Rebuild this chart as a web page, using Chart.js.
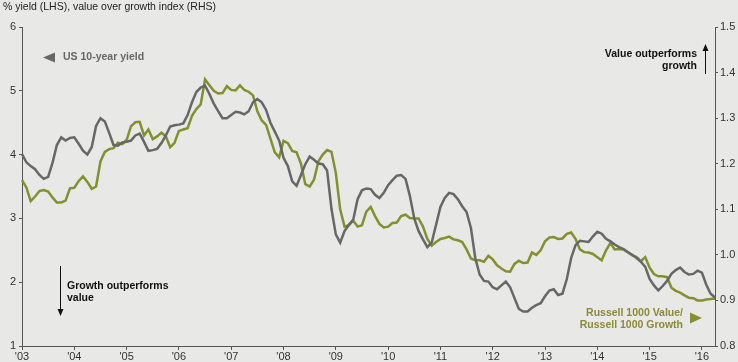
<!DOCTYPE html>
<html>
<head>
<meta charset="utf-8">
<script src="https://cdn.jsdelivr.net/npm/chart.js@4.4.1/dist/chart.umd.min.js"></script>
<style>
html,body{margin:0;padding:0;background:#e8e8e6;}
#wrap{width:738px;height:362px;position:relative;}
</style>
</head>
<body>
<div id="wrap"><canvas id="c" width="738" height="362"></canvas></div>
<script>
// Monthly categories, Jan 2003 .. Apr 2016
const startYear = 2003;
const months = [];
for (let i = 0; i < 160; i++) {
  const y = startYear + Math.floor(i / 12);
  const m = (i % 12) + 1;
  months.push(y + '-' + (m < 10 ? '0' + m : m));
}

// US 10-year yield, % (LHS)
const usYield = [
  4.01, 3.88, 3.82, 3.77, 3.68, 3.62, 3.65, 3.87, 4.15, 4.27,
  4.22, 4.26, 4.27, 4.17, 4.06, 4.00, 4.12, 4.45, 4.57, 4.52,
  4.34, 4.15, 4.14, 4.19, 4.20, 4.22, 4.30, 4.33, 4.20, 4.06,
  4.07, 4.09, 4.18, 4.30, 4.44, 4.46, 4.47, 4.49, 4.62, 4.82,
  4.98, 5.05, 5.08, 4.95, 4.80, 4.68, 4.57, 4.57, 4.62, 4.67,
  4.66, 4.63, 4.68, 4.82, 4.87, 4.82, 4.70, 4.50, 4.36, 4.22,
  3.95, 3.82, 3.58, 3.51, 3.68, 3.85, 3.97, 3.92, 3.86, 3.85,
  3.75, 3.15, 2.75, 2.62, 2.80, 2.90, 2.98, 3.30, 3.44, 3.47,
  3.46, 3.37, 3.32, 3.40, 3.52, 3.60, 3.67, 3.68, 3.62, 3.35,
  3.00, 2.80, 2.67, 2.55, 2.62, 2.90, 3.18, 3.32, 3.40, 3.38,
  3.30, 3.19, 3.10, 2.85, 2.38, 2.12, 2.02, 2.01, 1.92, 1.89,
  1.95, 2.01, 1.92, 1.75, 1.58, 1.54, 1.54, 1.60, 1.64, 1.67,
  1.78, 1.87, 1.89, 1.80, 1.82, 2.05, 2.38, 2.58, 2.65, 2.64,
  2.63, 2.72, 2.79, 2.76, 2.68, 2.64, 2.59, 2.55, 2.52, 2.47,
  2.43, 2.38, 2.32, 2.24, 2.05, 1.95, 1.87, 1.94, 2.02, 2.13,
  2.19, 2.23, 2.16, 2.12, 2.13, 2.18, 2.15, 1.96, 1.82, 1.76
];

// Russell 1000 Value / Russell 1000 Growth (RHS)
const valueOverGrowth = [
  1.164, 1.148, 1.118, 1.128, 1.140, 1.142, 1.139, 1.126, 1.115, 1.115,
  1.119, 1.146, 1.147, 1.162, 1.172, 1.160, 1.145, 1.150, 1.205, 1.226,
  1.232, 1.234, 1.246, 1.243, 1.252, 1.282, 1.291, 1.292, 1.262, 1.275,
  1.254, 1.260, 1.268, 1.260, 1.236, 1.246, 1.272, 1.275, 1.278, 1.305,
  1.320, 1.330, 1.385, 1.372, 1.360, 1.354, 1.355, 1.370, 1.362, 1.361,
  1.372, 1.362, 1.358, 1.350, 1.315, 1.295, 1.285, 1.255, 1.225, 1.214,
  1.250, 1.245, 1.228, 1.225, 1.200, 1.155, 1.150, 1.165, 1.205, 1.220,
  1.230, 1.226, 1.180, 1.100, 1.062, 1.065, 1.075, 1.062, 1.065, 1.095,
  1.105, 1.085, 1.068, 1.060, 1.062, 1.070, 1.071, 1.085, 1.088, 1.081,
  1.080, 1.080, 1.062, 1.035, 1.020, 1.028, 1.035, 1.037, 1.040, 1.034,
  1.032, 1.028, 1.012, 0.992, 0.988, 0.988, 0.985, 0.998, 0.990, 0.977,
  0.970, 0.964, 0.963, 0.980, 0.987, 0.982, 0.983, 1.005, 1.000, 1.010,
  1.030, 1.038, 1.039, 1.035, 1.036, 1.046, 1.049, 1.035, 1.012, 1.006,
  1.005, 1.002, 0.995, 0.988, 1.010, 1.026, 1.012, 1.013, 1.012, 1.006,
  0.999, 0.995, 0.986, 0.995, 0.972, 0.958, 0.953, 0.953, 0.951, 0.928,
  0.921, 0.917, 0.911, 0.906, 0.905, 0.900, 0.900, 0.902, 0.903, 0.904
];

// Axis tick labels
const leftTicks = [1, 2, 3, 4, 5, 6];
const rightTicks = [0.8, 0.9, 1.0, 1.1, 1.2, 1.3, 1.4, 1.5];
const yearLabels = ["'03","'04","'05","'06","'07","'08","'09","'10","'11","'12","'13","'14","'15","'16"];

const GREY = '#676767';
const GREEN = '#83902f';
const AXIS = '#555555';
const FONT = '"Liberation Sans", Arial, sans-serif';

const bgPlugin = {
  id: 'bg',
  beforeDraw(chart) {
    const ctx = chart.ctx;
    ctx.save();
    ctx.fillStyle = '#e8e8e6';
    ctx.fillRect(0, 0, chart.width, chart.height);
    ctx.restore();
  }
};

const annoPlugin = {
  id: 'anno',
  afterDraw(chart) {
    const ctx = chart.ctx;
    ctx.save();
    // title
    ctx.font = '10.5px ' + FONT;
    ctx.fillStyle = '#222';
    ctx.textBaseline = 'middle';
    ctx.textAlign = 'left';
    ctx.fillText('% yield (LHS), value over growth index (RHS)', 3, 7);

    // US 10-year yield label + left triangle
    ctx.fillStyle = GREY;
    ctx.beginPath();
    ctx.moveTo(43, 57.5); ctx.lineTo(55, 52.5); ctx.lineTo(55, 62.5); ctx.closePath();
    ctx.fill();
    ctx.font = 'bold 10.5px ' + FONT;
    ctx.fillText('US 10-year yield', 63, 57.5);

    // Value outperforms growth + up arrow
    ctx.fillStyle = '#111';
    ctx.textAlign = 'right';
    ctx.fillText('Value outperforms', 697, 54);
    ctx.fillText('growth', 697, 66);
    ctx.strokeStyle = '#111';
    ctx.lineWidth = 1;
    ctx.beginPath(); ctx.moveTo(705.5, 49); ctx.lineTo(705.5, 74); ctx.stroke();
    ctx.beginPath(); ctx.moveTo(705.5, 44); ctx.lineTo(702.5, 51); ctx.lineTo(708.5, 51); ctx.closePath(); ctx.fill();

    // Growth outperforms value + down arrow
    ctx.textAlign = 'left';
    ctx.fillText('Growth outperforms', 67, 286);
    ctx.fillText('value', 67, 298);
    ctx.beginPath(); ctx.moveTo(60.5, 266); ctx.lineTo(60.5, 311); ctx.stroke();
    ctx.beginPath(); ctx.moveTo(60.5, 316); ctx.lineTo(57.5, 309); ctx.lineTo(63.5, 309); ctx.closePath(); ctx.fill();

    // Russell label + right triangle
    ctx.fillStyle = '#8b8a35';
    ctx.textAlign = 'right';
    ctx.fillText('Russell 1000 Value/', 683, 313);
    ctx.fillText('Russell 1000 Growth', 683, 325);
    ctx.fillStyle = GREEN;
    ctx.beginPath(); ctx.moveTo(702, 318); ctx.lineTo(690, 312.5); ctx.lineTo(690, 323.5); ctx.closePath(); ctx.fill();
    ctx.restore();
  }
};

Chart.defaults.font.family = FONT;
Chart.defaults.font.size = 11;
Chart.defaults.color = '#333';

new Chart(document.getElementById('c'), {
  type: 'line',
  data: {
    labels: months,
    datasets: [
      { label: 'US 10-year yield', data: usYield, yAxisID: 'y', borderColor: GREY, borderWidth: 2.5, pointRadius: 0, tension: 0 },
      { label: 'Russell 1000 Value/Russell 1000 Growth', data: valueOverGrowth, yAxisID: 'y1', borderColor: GREEN, borderWidth: 2.5, pointRadius: 0, tension: 0 }
    ]
  },
  options: {
    responsive: false,
    animation: false,
    devicePixelRatio: 1,
    layout: { padding: { top: 27, left: 0, right: 0, bottom: 0 } },
    plugins: { legend: { display: false }, tooltip: { enabled: false }, title: { display: false } },
    scales: {
      x: {
        type: 'category',
        offset: false,
        grid: {
          drawOnChartArea: false,
          drawTicks: true,
          tickLength: 4,
          color: (c) => (c.index % 12 === 0 ? AXIS : 'rgba(0,0,0,0)')
        },
        border: { color: AXIS, width: 1 },
        ticks: {
          autoSkip: false,
          maxRotation: 0,
          minRotation: 0,
          padding: 0,
          color: '#333',
          callback: (v, i) => (i % 12 === 0 ? yearLabels[i / 12] : '')
        },
        afterFit: (s) => { s.height = 16; }
      },
      y: {
        position: 'left',
        min: leftTicks[0],
        max: leftTicks[leftTicks.length - 1],
        afterBuildTicks: (s) => { s.ticks = leftTicks.map(v => ({ value: v })); },
        grid: { drawOnChartArea: false, tickLength: 3, color: AXIS },
        border: { color: AXIS, width: 1 },
        ticks: { padding: 3, color: '#333', callback: (v) => String(v) },
        afterFit: (s) => { s.width = 22; }
      },
      y1: {
        position: 'right',
        min: rightTicks[0],
        max: rightTicks[rightTicks.length - 1],
        afterBuildTicks: (s) => { s.ticks = rightTicks.map(v => ({ value: v })); },
        grid: { drawOnChartArea: false, tickLength: 3, color: AXIS },
        border: { color: AXIS, width: 1 },
        ticks: { padding: 2, color: '#333', callback: (v) => Number(v).toFixed(1) },
        afterFit: (s) => { s.width = 23; }
      }
    }
  },
  plugins: [bgPlugin, annoPlugin]
});
</script>
</body>
</html>
